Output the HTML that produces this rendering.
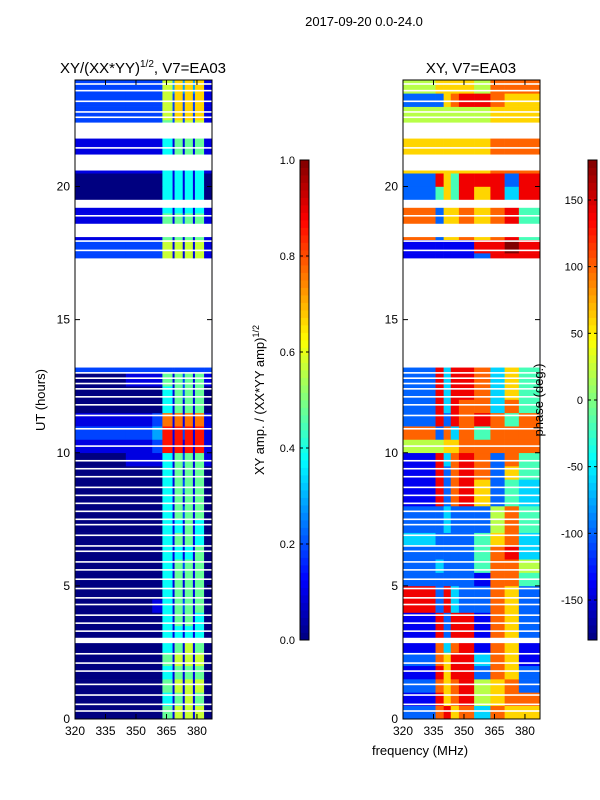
<!DOCTYPE html>
<html><head><meta charset="utf-8"><style>
body{margin:0;background:#fff;}
svg{display:block;font-family:"Liberation Sans",sans-serif;}
</style></head><body>
<svg id="chart" width="600" height="800" viewBox="0 0 600 800">
<text x="364" y="26" font-size="13" text-anchor="middle">2017-09-20 0.0-24.0</text>
<text x="143" y="73" font-size="15" text-anchor="middle">XY/(XX*YY)<tspan font-size="10" dy="-6">1/2</tspan><tspan dy="6">, V7=EA03</tspan></text>
<text x="471" y="73" font-size="15" text-anchor="middle">XY, V7=EA03</text>
<text x="45" y="400" font-size="13" text-anchor="middle" transform="rotate(-90 45 400)">UT (hours)</text>
<text x="420" y="755" font-size="13" text-anchor="middle">frequency (MHz)</text>
<text x="264" y="400" font-size="13" text-anchor="middle" transform="rotate(-90 264 400)">XY amp. / (XX*YY amp)<tspan font-size="9" dy="-5">1/2</tspan></text>
<g id="layer"></g>
<text x="543" y="400" font-size="13" text-anchor="middle" transform="rotate(-90 543 400)">phase (deg.)</text>
</svg>
<script>
const leftFreqEdges=[320,345,358,363,368,369,373,374,378,379,383.5,387.5];
const rightFreqEdges=[320,336,340,343.5,347.5,355,363,370,377,387.5];
const ampRows=["00051616160","00041516150","00051616160","00041515150","00051616160","00041516150","00041414140","00041515140","00141525150","00041515150","00041515150","00041525150","00041414150","00041515140","00041415140","00041525150","00041515150","00041525150","00041515150","01141525151","11291919191","22391929191","11281818181","00041515150","00041525150","01151525151","22222222222","00000000000","00000000000","00000000000","00000000000","00000000000","00000000000","00000000000","22261616161","22261616161","11151515151","11151525151","11141414141","00041414140","00041414140","11141414141","11141515151","11141515151","22252626261","22262727271","22262727271","22263737371"];
const phaseRows=["278673766","186785677","276785672","186882762","276883761","173781761","182881762","182881762","828322762","828322762","222221774","232224775","222224783","322224673","223222574","223222574","182786243","182786243","182787264","183787274","556677777","727374777","282878747","283877374","283887364","283887364","283887364","111111111","111111111","111111111","111111111","111111111","111111111","111111111","111112888","111118898","726676784","726676784","726676784","246486838","286488828","666666777","666666777","666666777","555555666","555555666","226788766","566665777"];
const presentIntervals=[[0,2.85],[3.05,13.2],[17.3,18.1],[18.6,19.2],[19.5,20.6],[21.2,21.8],[22.4,24]];
const gapLines=[0.3,0.55,0.9,1.3,1.8,2.1,2.45,3.3,3.6,3.9,4.3,4.55,4.9,5.25,5.6,5.9,6.3,6.5,6.9,7.3,7.5,7.8,8.1,8.4,8.7,9.1,9.4,9.7,10.25,10.9,11.4,11.8,12.1,12.4,12.6,12.8,13.0,17.6,17.95,18.9,21.45,22.6,22.8,23.2,23.6,23.85];
const yTicks=[0,5,10,15,20];
const xTicks=[320,335,350,365,380];
const ampTicks=["0.0","0.2","0.4","0.6","0.8","1.0"];
const phaseTicks=[-150,-100,-50,0,50,100,150];

const NS="http://www.w3.org/2000/svg";
const layer=document.getElementById('layer');
function mk(tag,attrs,parent){const e=document.createElementNS(NS,tag);for(const k in attrs)e.setAttribute(k,attrs[k]);(parent||layer).appendChild(e);return e;}
function cl(v){return Math.max(0,Math.min(1,v));}
function jet(v){const r=cl(1.5-Math.abs(4*v-3)),g=cl(1.5-Math.abs(4*v-2)),b=cl(1.5-Math.abs(4*v-1));return `rgb(${Math.round(r*255)},${Math.round(g*255)},${Math.round(b*255)})`;}
const plotTop=80,plotBot=719,pw=137;
function yS(h){return plotBot-(h/24)*(plotBot-plotTop);}
function xS(x0,f){return x0+(f-320)*(pw/67.4);}

function panel(x0,edges,rows,name,div){
  const g=mk('g',{});
  
  
  rows.forEach((row,i)=>{
    for(let c=0;c<edges.length-1;c++){
      const v=parseInt(row[c])/div;
      const xa=xS(x0,edges[c]),xb=xS(x0,edges[c+1]);
      const r=mk('rect',{x:xa,y:yS(i*0.5+0.5),width:xb-xa+0.3,height:yS(i*0.5)-yS(i*0.5+0.5)+0.3,fill:jet(v)},g);
      
      
    }
  });
  let prev=0;
  presentIntervals.concat([[24,24]]).forEach(p=>{
    if(p[0]>prev){const w=mk('rect',{x:x0,y:yS(p[0]),width:pw,height:yS(prev)-yS(p[0]),fill:'#fff'},g);
      
      }
    prev=p[1];
  });
  gapLines.forEach(h=>{
    const l=mk('rect',{x:x0,y:yS(h)-0.8,width:pw,height:1.6,fill:'#fff'},g);
    
    
  });
  const fr=mk('rect',{x:x0,y:plotTop,width:pw,height:plotBot-plotTop,fill:'none',stroke:'#000','stroke-width':1},g);
  
  
  yTicks.forEach(t=>{
    const y=yS(t);
    mk('line',{x1:x0,x2:x0+5,y1:y,y2:y,stroke:'#000'},g);
    mk('line',{x1:x0+pw,x2:x0+pw-5,y1:y,y2:y,stroke:'#000'},g);
    const tx=mk('text',{x:x0-5,y:y+4,'font-size':12,'text-anchor':'end'},g);
    tx.textContent=t;
    
    
  });
  xTicks.forEach(t=>{
    const x=xS(x0,t);
    mk('line',{x1:x,x2:x,y1:plotBot,y2:plotBot-5,stroke:'#000'},g);
    mk('line',{x1:x,x2:x,y1:plotTop,y2:plotTop+5,stroke:'#000'},g);
    const tx=mk('text',{x:x,y:plotBot+16,'font-size':12,'text-anchor':'middle'},g);
    tx.textContent=t;
    
    
  });
}
panel(75,leftFreqEdges,ampRows,'amplitude-heatmap',10.5);
panel(403,rightFreqEdges,phaseRows,'phase-heatmap',9);

function colorbar(x,name,ticks,fracFn){
  const g=mk('g',{});
  
  
  const n=64,h=480,y0=160;
  for(let i=0;i<n;i++){
    mk('rect',{x:x,y:y0+h-(i+1)*h/n,width:9,height:h/n+0.4,fill:jet((i+0.5)/n)},g);
  }
  mk('rect',{x:x,y:y0,width:9,height:h,fill:'none',stroke:'#000'},g);
  ticks.forEach(t=>{
    const y=y0+h-fracFn(t)*h;
    mk('line',{x1:x,x2:x+3,y1:y,y2:y,stroke:'#000'},g);
    mk('line',{x1:x+9,x2:x+6,y1:y,y2:y,stroke:'#000'},g);
    const tx=mk('text',{x:x-5,y:y+4,'font-size':11,'text-anchor':'end'},g);
    tx.textContent=t;
    
    
  });
}
colorbar(300,'amp-colorbar',ampTicks,t=>parseFloat(t));
colorbar(588,'phase-colorbar',phaseTicks,t=>(t+180)/360);
</script>
</body></html>
